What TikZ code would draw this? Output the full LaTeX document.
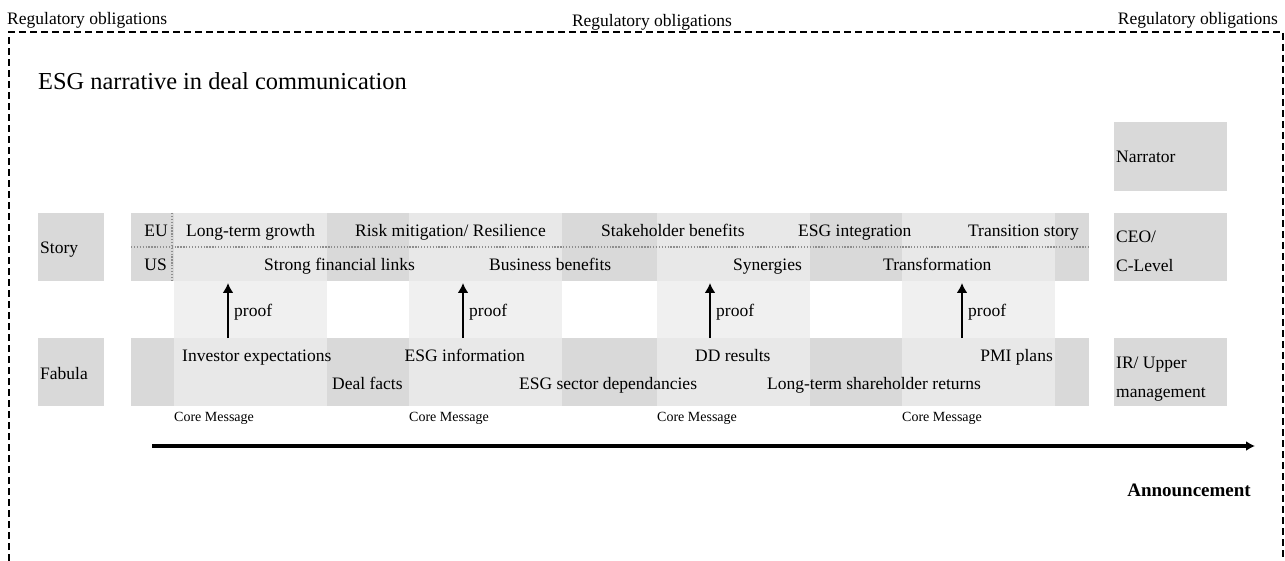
\documentclass[tikz,border=0pt]{standalone}
\usepackage{fontspec}
\setmainfont{Liberation Serif}
\usetikzlibrary{arrows.meta}
\definecolor{dk}{HTML}{D9D9D9}
\definecolor{lt}{HTML}{E8E8E8}
\definecolor{pl}{HTML}{F0F0F0}
\definecolor{dotc}{HTML}{8E8E8E}
\tikzset{
  txt/.style={inner sep=0pt, text height=0.7em, text depth=0.2em, yshift=-4pt, font=\fontsize{17.5}{21}\selectfont},
  twoline/.style={inner sep=0pt, align=left, yshift=-3pt, font=\fontsize{17.5}{29}\selectfont},
  titletxt/.style={inner sep=0pt, text height=0.7em, text depth=0.2em, yshift=-5pt, font=\fontsize{24.4}{30}\selectfont},
  coretxt/.style={inner sep=0pt, text height=0.7em, text depth=0.2em, yshift=-3pt, font=\fontsize{14}{16}\selectfont},
  anntxt/.style={inner sep=0pt, text height=0.7em, text depth=0.2em, yshift=-4pt, font=\fontsize{19}{22}\selectfont\bfseries},
  frame/.style={line width=1.6pt, dash pattern=on 7pt off 4pt},
  dotline/.style={dotc, line width=1.3pt, dash pattern=on 1.3pt off 1.6pt},
  proofarrow/.style={line width=2.6pt, -{Latex[length=10pt,width=11pt]}},
  timearrow/.style={line width=3.2pt, -{Latex[length=9pt,width=10pt]}}
}
\begin{document}
\begin{tikzpicture}[x=1pt,y=-1pt]
\useasboundingbox (0,0) rectangle (1285,561);

% frame
\coordinate (fbl) at (9,561);
\coordinate (ftl) at (9,32);
\coordinate (ftr) at (1283,32);
\coordinate (fbr) at (1283,561);
\draw[frame] (fbl) -- (ftl) -- (ftr) -- (fbr);

% top labels
\node[txt, anchor=west] (reg1) at (7,18) {Regulatory obligations};
\node[txt] (reg2) at (652,20) {Regulatory obligations};
\node[txt, anchor=east] (reg3) at (1278,18) {Regulatory obligations};

% title
\node[titletxt, anchor=west] (title) at (38,82) {ESG narrative in deal communication};

% side boxes
\fill[dk] (38,213) rectangle (104,281);
\fill[dk] (38,338) rectangle (104,406);
\fill[dk] (1114,122) rectangle (1227,191);
\fill[dk] (1114,213) rectangle (1227,281);
\fill[dk] (1114,338) rectangle (1227,406);

% band columns
\foreach \a/\b/\c in {131/174/dk,174/327/lt,327/409/dk,409/562/lt,562/657/dk,657/810/lt,810/902/dk,902/1055/lt,1055/1089/dk}{
  \fill[\c] (\a,213) rectangle (\b,281);
  \fill[\c] (\a,338) rectangle (\b,406);
}
\foreach \a/\b in {174/327,409/562,657/810,902/1055}{
  \fill[pl] (\a,281) rectangle (\b,338);
}

% dotted separators
\coordinate (hd1) at (131,247);
\coordinate (hd2) at (1089,247);
\coordinate (vd1) at (172,213);
\coordinate (vd2) at (172,281);
\draw[dotline] (hd1) -- (hd2);
\draw[dotline] (vd1) -- (vd2);

% side labels
\node[txt, anchor=west] (story) at (40,247) {Story};
\node[txt, anchor=west] (fabula) at (40,373) {Fabula};
\node[txt, anchor=west] (narrator) at (1116,156) {Narrator};
\node[twoline, anchor=west] (ceo) at (1116,248) {CEO/\\C-Level};
\node[twoline, anchor=west] (ir) at (1116,376) {IR/ Upper\\management};

% story row
\node[txt, anchor=east] (eu) at (168,230) {EU};
\node[txt, anchor=east] (us) at (167,264) {US};
\node[txt, anchor=west] (s1) at (186,230) {Long-term growth};
\node[txt, anchor=west] (s2) at (355,230) {Risk mitigation/ Resilience};
\node[txt, anchor=west] (s3) at (601,230) {Stakeholder benefits};
\node[txt, anchor=west] (s4) at (798,230) {ESG integration};
\node[txt, anchor=east] (s5) at (1079,230) {Transition story};
\node[txt, anchor=west] (u1) at (264,264) {Strong financial links};
\node[txt, anchor=west] (u2) at (489,264) {Business benefits};
\node[txt, anchor=west] (u3) at (733,264) {Synergies};
\node[txt, anchor=west] (u4) at (883,264) {Transformation};

% fabula row
\node[txt, anchor=west] (f1) at (182,355) {Investor expectations};
\node[txt, anchor=east] (f2) at (525,355) {ESG information};
\node[txt, anchor=west] (f3) at (695,355) {DD results};
\node[txt, anchor=east] (f4) at (1053,355) {PMI plans};
\node[txt, anchor=west] (g1) at (332,383) {Deal facts};
\node[txt, anchor=west] (g2) at (519,383) {ESG sector dependancies};
\node[txt, anchor=west] (g3) at (767,383) {Long-term shareholder returns};

% proof arrows
\foreach \i/\x in {1/228,2/463,3/710,4/962}{
  \coordinate (pb\i) at (\x,338);
  \coordinate (pt\i) at (\x,283);
  \draw[proofarrow] (pb\i) -- (pt\i);
  \node[txt, anchor=west] (proof\i) at (\x+6,310) {proof};
}

% core messages
\node[coretxt, anchor=west] (cm1) at (174,416) {Core Message};
\node[coretxt, anchor=west] (cm2) at (409,416) {Core Message};
\node[coretxt, anchor=west] (cm3) at (657,416) {Core Message};
\node[coretxt, anchor=west] (cm4) at (902,416) {Core Message};

% timeline
\coordinate (ts) at (152,446);
\coordinate (te) at (1255,446);
\draw[timearrow] (ts) -- (te);
\node[anntxt, anchor=east] (ann) at (1251,490) {Announcement};
\end{tikzpicture}
\end{document}
